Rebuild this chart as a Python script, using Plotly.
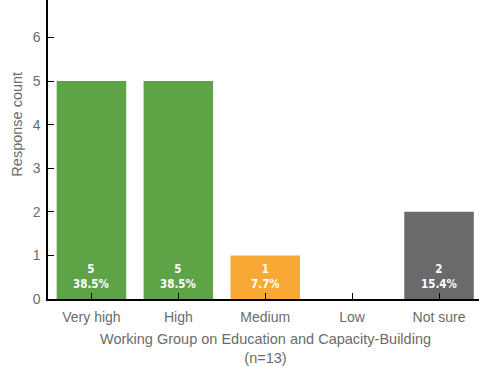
import plotly.graph_objects as go

categories = ["Very high", "High", "Medium", "Low", "Not sure"]
counts = [5, 5, 1, 0, 2]
bar_colors = ["#5ea345", "#5ea345", "#f8a835", "#9a9a9a", "#6a6a6d"]
n_total = 13
x_title = "Working Group on Education and Capacity-Building<br>(n=13)"
y_title = "Response count"

label_font = dict(family="DejaVu Sans Condensed, Arial Narrow, sans-serif", size=11.5, color="white")
axis_font = dict(family="Liberation Sans, Arial, sans-serif", size=14, color="#6b6b6b")
title_font = dict(family="Liberation Sans, Arial, sans-serif", size=14.5, color="#6b6b6b")

fig = go.Figure(
    go.Bar(
        x=categories,
        y=counts,
        marker=dict(color=bar_colors, line=dict(width=0)),
        width=0.8,
        hoverinfo="x+y",
    )
)

# count and share labels sitting at the foot of each non-empty bar
for cat, c in zip(categories, counts):
    if c > 0:
        fig.add_annotation(
            x=cat,
            y=0,
            xref="x",
            yref="y",
            text=f"<b>{c}<br>{c / n_total * 100:.1f}%</b>",
            showarrow=False,
            xanchor="center",
            yanchor="bottom",
            yshift=6,
            font=label_font,
        )

# vertical axis title, centred on the 0–8 span of the full axis
fig.add_annotation(
    x=-31 / 431,
    y=4,
    xref="paper",
    yref="y",
    text=y_title,
    textangle=-90,
    showarrow=False,
    xanchor="center",
    yanchor="middle",
    font=title_font,
)

# horizontal axis title, centred on the full 0–5 category span
fig.add_annotation(
    x=2,
    y=0,
    xref="x",
    yref="paper",
    text=x_title,
    showarrow=False,
    xanchor="center",
    yanchor="top",
    yshift=-31,
    borderpad=0,
    font=title_font,
)

fig.update_layout(
    width=479,
    height=367,
    margin=dict(l=48, r=0, t=0, b=68),
    paper_bgcolor="white",
    plot_bgcolor="white",
    showlegend=False,
    xaxis=dict(
        range=[-0.5, 4.46],
        automargin=False,
        showline=True,
        linecolor="black",
        linewidth=1.5,
        ticks="inside",
        ticklen=6,
        tickcolor="black",
        tickfont=axis_font,
        ticklabelstandoff=4,
        showgrid=False,
    ),
    yaxis=dict(
        range=[0, 6.86],
        automargin=False,
        showline=True,
        linecolor="black",
        linewidth=1.5,
        ticks="inside",
        ticklen=6,
        tickcolor="black",
        tick0=0,
        dtick=1,
        tickfont=axis_font,
        ticklabelstandoff=3,
        showgrid=False,
        zeroline=False,
    ),
)

fig.write_html("out.html")
